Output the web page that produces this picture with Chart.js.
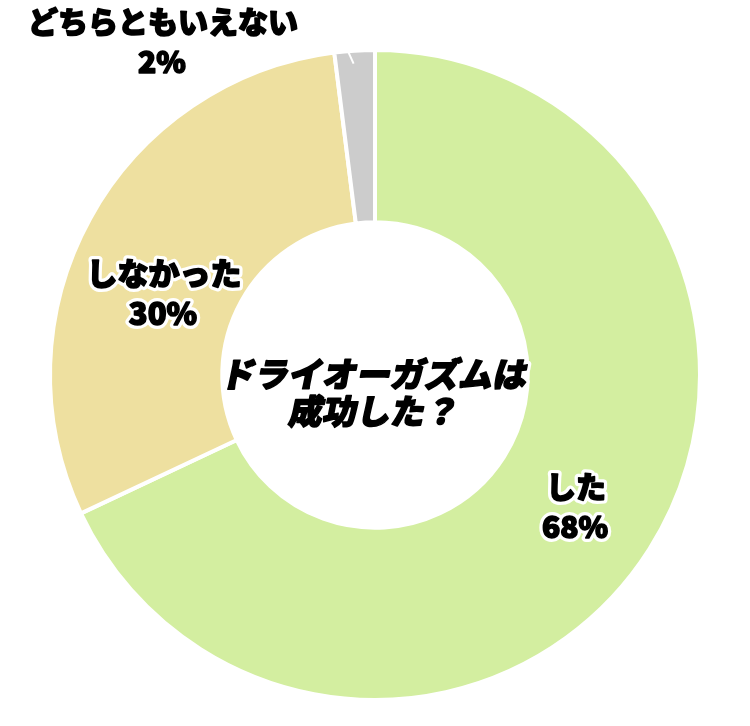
<!DOCTYPE html>
<html>
<head>
<meta charset="utf-8">
<script src="https://cdn.jsdelivr.net/npm/chart.js@4"></script>
<style>
  html, body { margin: 0; padding: 0; background: #fff; }
</style>
</head>
<body>
<canvas id="donutChart" width="750" height="726"></canvas>
<script>
// データ
const answerLabels = ['した', 'しなかった', 'どちらともいえない'];
const answerValues = [68, 30, 2];
const answerColors = ['#d3eea0', '#eee0a0', '#cccccc'];
const centerTitle = ['ドライオーガズムは', '成功した？'];

const FONT = '"Noto Sans CJK JP", "Noto Sans", sans-serif';

// ラベル位置（スライスごと）
const labelPos = [
  { x: 576, y: 487, size: 30 },
  { x: 164, y: 273, size: 31 },
  { x: 163, y: 22, size: 30 }
];

function outlinedText(ctx, text, x, y, size, skew) {
  ctx.save();
  ctx.translate(x, y);
  if (skew) ctx.transform(1, 0, -skew, 1, 0, 0);
  ctx.font = '900 ' + size + 'px ' + FONT;
  ctx.textAlign = 'center';
  ctx.textBaseline = 'middle';
  ctx.lineJoin = 'round';
  ctx.lineWidth = 8;
  ctx.strokeStyle = '#fff';
  ctx.strokeText(text, 0, 0);
  // 太く見せるため黒でも縁取り
  ctx.lineWidth = 1.6;
  ctx.strokeStyle = '#000';
  ctx.strokeText(text, 0, 0);
  ctx.fillStyle = '#000';
  ctx.fillText(text, 0, 0);
  ctx.restore();
}

const labelPlugin = {
  id: 'labelPlugin',
  afterDatasetsDraw(chart) {
    const ctx = chart.ctx;
    const arcs = chart.getDatasetMeta(0).data;

    // どちらともいえない の引き出し線（白）
    const g = arcs[2];
    const mid = (g.startAngle + g.endAngle) / 2;
    const ox = g.x + Math.cos(mid) * g.outerRadius;
    const oy = g.y + Math.sin(mid) * g.outerRadius;
    ctx.save();
    ctx.strokeStyle = '#fff';
    ctx.lineWidth = 2;
    ctx.beginPath();
    ctx.moveTo(ox - 6, oy + 2);
    ctx.lineTo(ox - 1, oy + 13);
    ctx.stroke();
    ctx.restore();

    answerLabels.forEach((lab, i) => {
      const p = labelPos[i];
      outlinedText(ctx, lab, p.x, p.y, p.size, 0);
      outlinedText(ctx, answerValues[i] + '%', p.x - 1, p.y + 40, p.size, 0);
    });

    // 中央タイトル
    outlinedText(ctx, centerTitle[0], g.x, g.y - 1, 34, 0.2);
    outlinedText(ctx, centerTitle[1], g.x, g.y + 36, 34, 0.2);
  }
};

new Chart(document.getElementById('donutChart'), {
  type: 'doughnut',
  data: {
    labels: answerLabels,
    datasets: [{
      data: answerValues,
      backgroundColor: answerColors,
      borderColor: '#fff',
      borderWidth: 4
    }]
  },
  options: {
    responsive: false,
    animation: false,
    cutout: '47%',
    layout: { padding: { left: 48, right: 48, top: 48, bottom: 24 } },
    plugins: {
      legend: { display: false },
      tooltip: { enabled: false }
    }
  },
  plugins: [labelPlugin]
});
</script>
</body>
</html>
